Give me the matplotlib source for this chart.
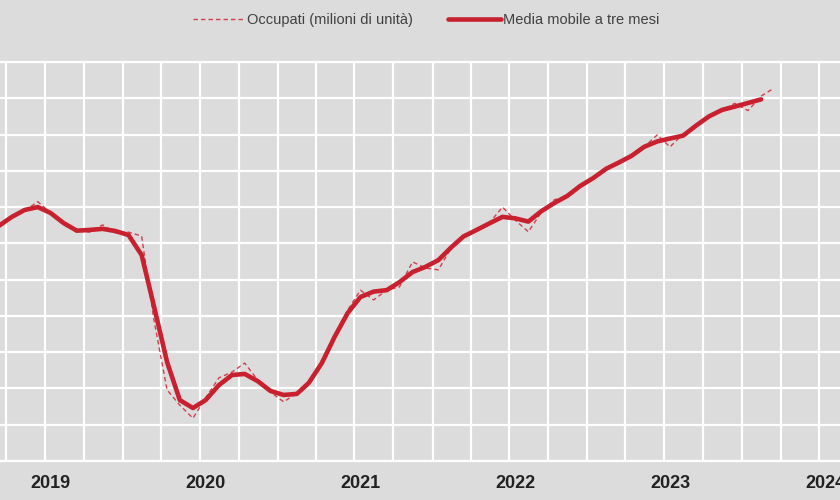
import numpy as np
import pandas as pd
import matplotlib
matplotlib.use('Agg')
import matplotlib.pyplot as plt
import matplotlib.dates as mdates

# occupati, milioni di unità, monthly from Jan 2019
occupati = [23.404, 23.426, 23.448, 23.473, 23.489, 23.515, 23.484, 23.451, 23.434, 23.431,
            23.451, 23.429, 23.431, 23.420, 23.189, 22.996, 22.954, 22.918, 22.974, 23.029,
            23.045, 23.070, 23.023, 22.990, 22.963, 22.987, 23.015, 23.078, 23.147, 23.216,
            23.271, 23.244, 23.271, 23.280, 23.349, 23.332, 23.327, 23.390, 23.423, 23.437,
            23.456, 23.500, 23.464, 23.432, 23.486, 23.520, 23.531, 23.558, 23.580, 23.608,
            23.622, 23.641, 23.666, 23.699, 23.666, 23.701, 23.726, 23.751, 23.768, 23.786,
            23.766, 23.806, 23.827]

# media mobile a tre mesi (ends one month earlier)
media_mobile = [23.404, 23.426, 23.448, 23.473, 23.492, 23.500, 23.484, 23.456, 23.435, 23.437,
                23.440, 23.434, 23.423, 23.368, 23.227, 23.073, 22.968, 22.946, 22.968, 23.009,
                23.037, 23.040, 23.020, 22.993, 22.982, 22.985, 23.015, 23.070, 23.142, 23.208,
                23.252, 23.267, 23.271, 23.293, 23.321, 23.335, 23.354, 23.390, 23.419, 23.437,
                23.455, 23.473, 23.469, 23.460, 23.489, 23.511, 23.531, 23.558, 23.580, 23.606,
                23.622, 23.641, 23.666, 23.681, 23.689, 23.697, 23.725, 23.750, 23.768, 23.777,
                23.787, 23.797]

years = [2019, 2020, 2021, 2022, 2023, 2024]

mesi = pd.date_range('2019-01-01', periods=len(occupati), freq='MS') + pd.Timedelta(days=14)

plt.rcParams['font.family'] = ['Liberation Sans', 'DejaVu Sans']

bg = '#dcdcdc'
red = '#c8202f'

fig = plt.figure(figsize=(8.4, 5.0), dpi=100, facecolor=bg)
ax = fig.add_axes([0, 0.078, 1, 0.798], facecolor=bg)

ax.plot(mesi, occupati, color='#d0404c', lw=1.0, ls=(0, (3.2, 2.2)),
        label='Occupati (milioni di unità)', zorder=3)
ax.plot(mesi[:len(media_mobile)], media_mobile, color=red, lw=3.3,
        label='Media mobile a tre mesi', zorder=4,
        solid_capstyle='round', solid_joinstyle='round')

ax.set_xlim(pd.Timestamp('2019-03-18'), pd.Timestamp('2024-08-19'))
ax.set_ylim(22.8, 23.9)
ax.set_yticks(np.arange(22.8, 23.95, 0.1))
ax.yaxis.set_ticklabels([])
ax.tick_params(axis='y', length=0)

ax.xaxis.set_major_locator(mdates.MonthLocator(bymonth=[1, 4, 7, 10]))
ax.xaxis.set_major_formatter(plt.NullFormatter())
ax.set_xticks([pd.Timestamp(f'{y}-07-15') for y in years], minor=True)
ax.set_xticklabels([str(y) for y in years], minor=True, fontsize=13,
                   fontweight='bold', color='#222222')
ax.tick_params(axis='x', which='both', length=0)
ax.tick_params(axis='x', which='minor', pad=10)

ax.grid(True, which='major', color='white', lw=1.6)
ax.set_axisbelow(True)
for s in ['left', 'right']:
    ax.spines[s].set_visible(False)
for s in ['top', 'bottom']:
    ax.spines[s].set_color('white')
    ax.spines[s].set_linewidth(1.6)

leg = fig.legend(loc='center', bbox_to_anchor=(0.507, 0.96), ncol=2, frameon=False,
                 fontsize=10.5, handlelength=3.6, handletextpad=0.15, columnspacing=2.4)
for t in leg.get_texts():
    t.set_color('#404040')

fig.savefig('out.png', dpi=100, facecolor=bg)
